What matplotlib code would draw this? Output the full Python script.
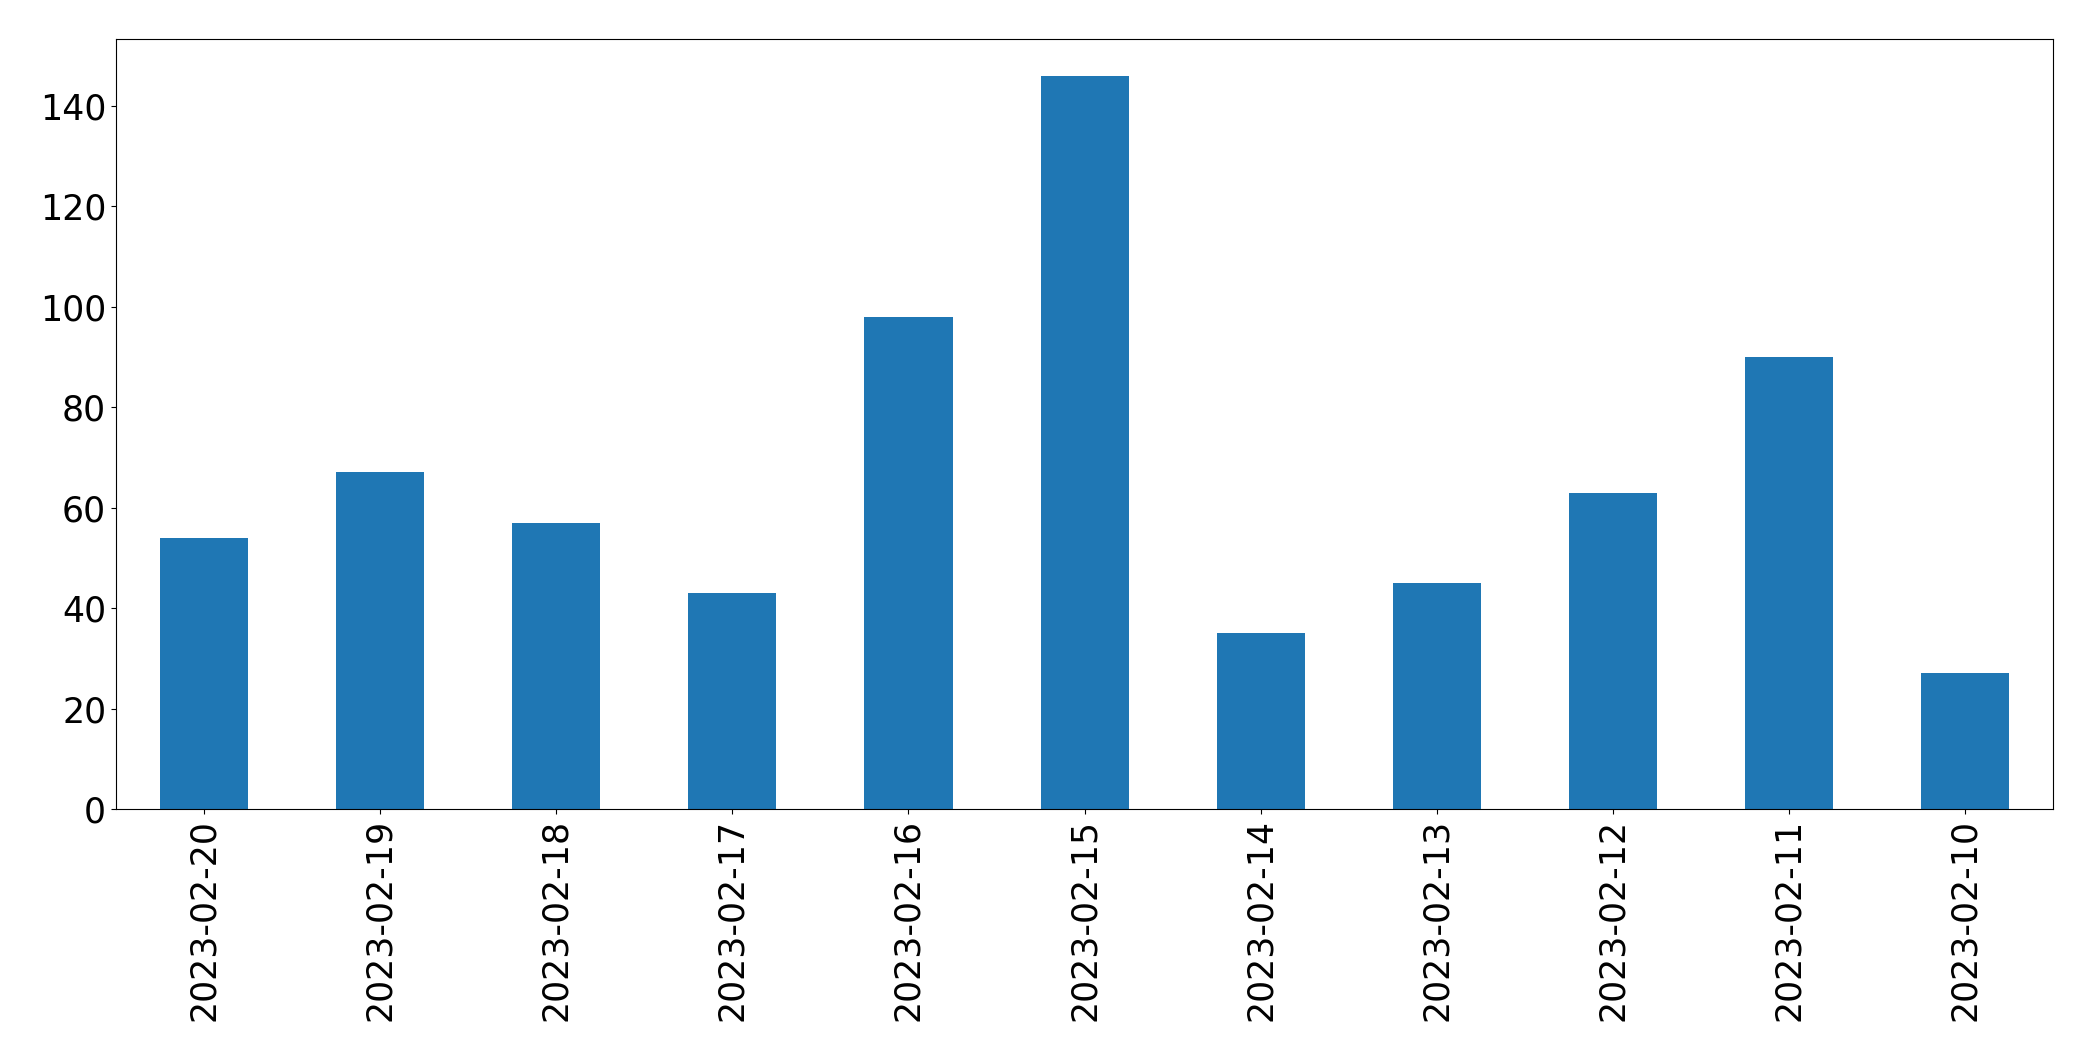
import matplotlib
matplotlib.use("Agg")
import matplotlib.pyplot as plt
import numpy as np

# 날짜별 건수 (역순)
dates = ["2023-02-20", "2023-02-19", "2023-02-18", "2023-02-17", "2023-02-16", "2023-02-15",
         "2023-02-14", "2023-02-13", "2023-02-12", "2023-02-11", "2023-02-10"]
counts = [54, 67, 57, 43, 98, 146, 35, 45, 63, 90, 27]

fig = plt.figure(figsize=(20.93, 10.61), dpi=100)
ax = fig.add_axes([0.0554, 0.2375, 0.981 - 0.0554, 0.9632 - 0.2375])

x = np.arange(len(dates))
ax.bar(x, counts, width=0.5, color="#1f77b4")
ax.set_xlim(-0.5, len(dates) - 0.5)
ax.set_ylim(0, max(counts) * 1.05)
ax.set_xticks(x)
ax.set_xticklabels(dates, rotation=90)
ax.tick_params(axis="both", labelsize=25)

fig.savefig("out.png", dpi=100)
